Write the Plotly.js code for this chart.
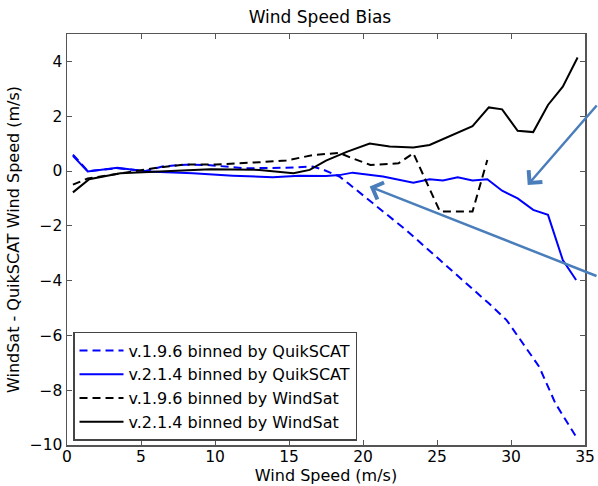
<!DOCTYPE html>
<html>
<head>
<meta charset="utf-8">
<script src="https://cdn.plot.ly/plotly-3.0.1.min.js"></script>
<style>html,body{margin:0;padding:0;background:#fff;}#chart{width:598px;height:486px;}</style>
</head>
<body>
<div id="chart"></div>
<script>
// v.1.9.6 binned by QuikSCAT (blue dashed)
const x196q = [0.4, 1.4, 3.4, 5.3, 6.5, 8.0, 9.5, 12.0, 14.8, 16.6, 17.3, 18.4, 19.0, 20.7, 22.9, 25.2, 27.4, 28.5, 29.7, 30.8, 31.9, 33.0, 34.4];
const y196q = [0.6, 0.0, 0.1, 0.0, 0.17, 0.23, 0.22, 0.1, 0.12, 0.16, 0.05, -0.2, -0.45, -1.18, -2.15, -3.25, -4.28, -4.83, -5.44, -6.29, -7.14, -8.48, -9.7];
// v.2.1.4 binned by QuikSCAT (blue solid)
const x214q = [0.4, 1.4, 3.4, 5.4, 8.5, 11.2, 13.9, 15.7, 17.5, 18.4, 19.3, 21.35, 23.4, 24.5, 25.4, 26.4, 27.4, 28.4, 29.4, 30.45, 31.5, 32.5, 33.5, 34.4];
const y214q = [0.55, -0.02, 0.12, -0.02, -0.08, -0.17, -0.23, -0.17, -0.18, -0.15, -0.06, -0.2, -0.43, -0.3, -0.35, -0.23, -0.35, -0.3, -0.72, -1.0, -1.42, -1.6, -3.25, -3.98];
// v.1.9.6 binned by WindSat (black dashed)
const x196w = [0.4, 1.4, 2.0, 3.6, 5.0, 6.5, 8.1, 10.1, 13.0, 14.8, 16.6, 18.4, 19.3, 20.5, 22.4, 23.4, 25.2, 27.4, 28.4];
const y196w = [-0.5, -0.27, -0.22, -0.08, 0.04, 0.15, 0.24, 0.24, 0.32, 0.38, 0.58, 0.66, 0.46, 0.22, 0.28, 0.65, -1.48, -1.48, 0.4];
// v.2.1.4 binned by WindSat (black solid)
const x214w = [0.4, 1.5, 3.6, 6.3, 9.7, 13.0, 15.3, 16.4, 17.5, 18.9, 20.45, 21.8, 23.4, 24.5, 25.85, 27.4, 28.5, 29.4, 30.45, 31.5, 32.5, 33.5, 34.5];
const y214w = [-0.78, -0.3, -0.08, -0.02, 0.06, 0.04, -0.08, 0.04, 0.38, 0.7, 1.0, 0.89, 0.86, 0.95, 1.28, 1.64, 2.32, 2.25, 1.47, 1.42, 2.41, 3.08, 4.14];

const seriesNames = ["v.1.9.6 binned by QuikSCAT", "v.2.1.4 binned by QuikSCAT", "v.1.9.6 binned by WindSat", "v.2.1.4 binned by WindSat"];
const xTicks = [0, 5, 10, 15, 20, 25, 30, 35];
const yTicks = [-10, -8, -6, -4, -2, 0, 2, 4];
// arrow heads (data coords) pointing at features
const arrowX = [31.13, 20.45];
const arrowY = [-0.51, -0.57];

const FONT = "DejaVu Sans, sans-serif";
const dashPat = "8px,5px";

const traces = [
  {x: x196q, y: y196q, name: seriesNames[0], mode: "lines", line: {color: "#0000ff", width: 2, dash: dashPat}},
  {x: x214q, y: y214q, name: seriesNames[1], mode: "lines", line: {color: "#0000ff", width: 2}},
  {x: x196w, y: y196w, name: seriesNames[2], mode: "lines", line: {color: "#000000", width: 2, dash: dashPat}},
  {x: x214w, y: y214w, name: seriesNames[3], mode: "lines", line: {color: "#000000", width: 2}}
];

const axisCommon = {
  showgrid: false, zeroline: false, showline: true, mirror: "ticks",
  linecolor: "#555", linewidth: 1.5, ticks: "inside", ticklen: 5, tickcolor: "#555",
  tickfont: {family: FONT, size: 15.5, color: "#000"}
};

const layout = {
  width: 598, height: 486,
  margin: {l: 67, r: 13, t: 34, b: 41},
  paper_bgcolor: "#fff", plot_bgcolor: "#fff",
  font: {family: FONT, color: "#000"},
  title: {text: "Wind Speed Bias", font: {family: FONT, size: 17, color: "#000"}, x: 0.535, xanchor: "center", y: 0.965, yanchor: "middle"},
  xaxis: Object.assign({}, axisCommon, {
    range: [0, 35], tickvals: xTicks, ticklabelstandoff: -3,
    title: {text: "Wind Speed (m/s)", font: {family: FONT, size: 16, color: "#000"}, standoff: 0}
  }),
  yaxis: Object.assign({}, axisCommon, {
    range: [-10, 5], tickvals: yTicks,
    title: {text: "WindSat - QuikSCAT Wind Speed (m/s)", font: {family: FONT, size: 16, color: "#000"}, standoff: 6}
  }),
  showlegend: true,
  legend: {
    x: 0.0116, y: 0.275, xanchor: "left", yanchor: "top",
    bgcolor: "#fff", bordercolor: "#444", borderwidth: 1.5, itemwidth: 44,
    font: {family: FONT, size: 16, color: "#000"}
  },
  annotations: [
    {x: arrowX[0], y: arrowY[0], xref: "x", yref: "y", text: "", showarrow: true,
     ax: 71, ay: -81, arrowhead: 4, arrowsize: 1.4, arrowwidth: 2.5, arrowcolor: "#4a7ebb", standoff: 0},
    {x: arrowX[1], y: arrowY[1], xref: "x", yref: "y", text: "", showarrow: true,
     ax: 229, ay: 90, arrowhead: 4, arrowsize: 1.4, arrowwidth: 2.5, arrowcolor: "#4a7ebb", standoff: 0}
  ]
};

Plotly.newPlot("chart", traces, layout, {displayModeBar: false, staticPlot: true});
</script>
</body>
</html>
